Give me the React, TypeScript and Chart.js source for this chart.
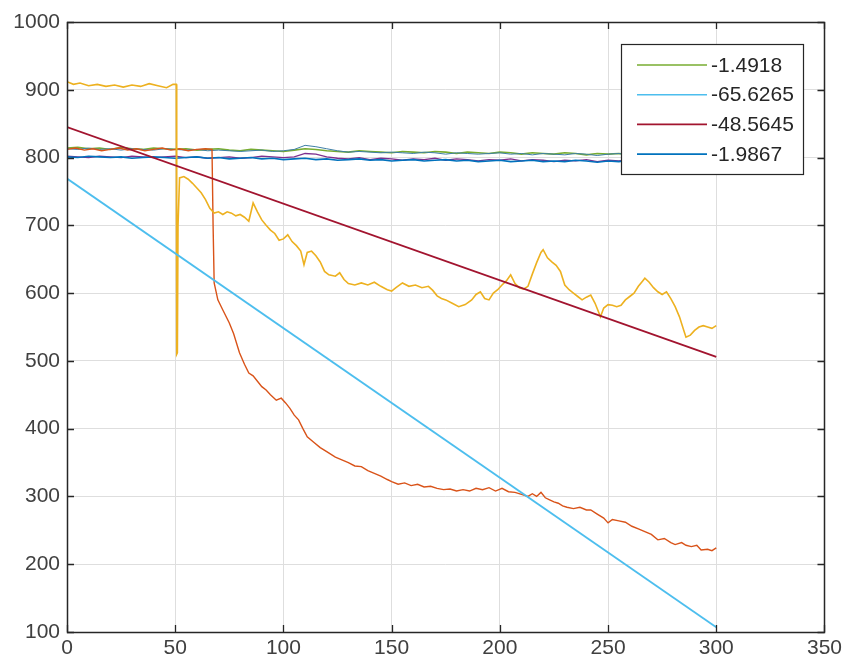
import React, { useEffect, useRef } from 'react';
import { Chart, registerables } from 'chart.js';

Chart.register(...registerables);

// ---- data ----
const xTicks = [0, 50, 100, 150, 200, 250, 300, 350];
const yTicks = [100, 200, 300, 400, 500, 600, 700, 800, 900, 1000];

const flatX = [0, 5, 10, 15, 20, 25, 30, 35, 40, 45, 50, 55, 60, 65, 70, 75, 80, 85, 90, 95, 100, 105, 110, 115, 120, 125, 130, 135, 140, 145, 150, 155, 160, 165, 170, 175, 180, 185, 190, 195, 200, 205, 210, 215, 220, 225, 230, 235, 240, 245, 250, 255, 260, 265, 270, 275, 280, 285, 290, 295, 300];

const greenY = [814, 815, 813, 814, 812, 815, 813, 812, 814, 813, 812, 813, 811, 812, 813, 811, 810, 812, 811, 810, 809, 811, 813, 812, 810, 809, 808, 810, 809, 808, 807, 809, 808, 807, 809, 808, 806, 808, 807, 806, 808, 807, 805, 807, 806, 805, 807, 806, 804, 806, 805, 806, 804, 806, 805, 804, 806, 805, 804, 806, 805];
const tealY = [813, 812, 814, 812, 813, 811, 813, 812, 811, 813, 812, 811, 812, 810, 811, 810, 809, 810, 811, 809, 810, 812, 818, 816, 813, 810, 808, 809, 808, 807, 808, 807, 806, 808, 807, 805, 807, 806, 805, 806, 807, 805, 806, 804, 806, 805, 804, 806, 805, 803, 805, 806, 803, 805, 804, 803, 805, 804, 806, 804, 805];
const blueY = [801, 800, 802, 801, 800, 801, 799, 800, 801, 800, 799, 800, 801, 799, 800, 798, 799, 800, 798, 799, 797, 798, 799, 797, 798, 796, 797, 798, 796, 797, 795, 796, 797, 795, 796, 797, 795, 796, 794, 795, 796, 794, 795, 796, 794, 795, 794, 796, 795, 793, 795, 794, 796, 795, 793, 794, 795, 794, 796, 795, 794];
const purpleY = [802, 801, 800, 802, 801, 800, 802, 801, 800, 801, 802, 800, 801, 799, 800, 801, 799, 800, 802, 801, 800, 801, 806, 805, 801, 799, 798, 800, 797, 799, 798, 796, 798, 797, 799, 796, 798, 797, 795, 797, 796, 798, 795, 797, 796, 794, 796, 795, 797, 794, 796, 795, 797, 794, 796, 795, 793, 795, 796, 794, 795];

const yellowX = [0, 3, 6, 10, 14, 18, 22, 26, 30, 34, 38, 42, 46, 49, 50.5, 50.7, 51, 51.3, 52, 54, 56, 58, 60, 62, 64, 66, 68, 70, 72, 74, 76, 78, 80, 82, 84, 86, 88, 90, 92, 94, 96, 98, 100, 102, 104, 106, 108, 109.5, 111, 113, 115, 117, 119, 121, 124, 126, 128, 130, 133, 136, 139, 142, 145, 148, 150, 152, 155, 158, 161, 164, 167, 169, 171, 173, 175, 178, 181, 184, 187, 189, 191, 193, 195, 197, 199, 201, 203, 205, 207, 209, 211, 213, 215, 217, 219, 220, 222, 224, 226, 228, 230, 232, 234, 236, 238, 240, 242, 244, 246.5, 248, 250, 252, 254, 256, 258, 260, 262, 264, 266, 267, 269, 271, 273, 275, 277, 279, 281, 283, 285, 286, 288, 290, 292, 294, 296, 298, 300];
const yellowY = [912, 908, 910, 906, 908, 905, 907, 904, 907, 905, 909, 906, 903, 908, 908, 510, 512, 700, 770, 772, 768, 762, 755, 748, 738, 725, 718, 720, 716, 720, 718, 714, 716, 712, 706, 733, 720, 708, 700, 693, 688, 678, 680, 686, 676, 670, 662, 642, 660, 662, 655, 646, 632, 627, 625, 630, 620, 614, 612, 615, 612, 616, 610, 605, 603, 608, 615, 610, 612, 608, 610, 604, 596, 592, 590, 585, 580, 583, 590, 598, 602, 592, 590, 600, 605, 612, 618, 627, 614, 608, 606, 610, 628, 645, 660, 664, 652, 646, 641, 632, 612, 605, 600, 595, 590, 594, 597, 585, 565, 578, 583, 582, 580, 582, 590, 595, 600, 610, 618, 622, 616, 608, 602, 598, 602, 592, 580, 565, 545, 535, 538, 545, 550, 552, 550, 548, 552];

const orangeX = [0, 4, 8, 12, 16, 20, 24, 28, 32, 36, 40, 44, 48, 52, 56, 60, 64, 67, 67.5, 68, 69.7, 72, 75, 77, 79.7, 82, 84, 86, 88, 90, 92, 94, 96.7, 99, 101, 103, 105, 107, 109, 111, 114, 117, 120, 122, 124, 127, 130, 133, 136, 139, 142, 145, 148, 150, 153, 156, 159, 162, 165, 168, 171, 174, 177, 180, 183, 186, 189, 192, 195, 198, 201, 204, 207, 210, 213, 215, 217, 219, 221, 223, 225, 227, 229, 231, 234, 237, 240, 242, 245, 248, 250, 252, 255, 258, 261, 264, 267, 270, 273, 276, 279, 281, 284, 286, 288.5, 291, 293, 296, 298, 300];
const orangeY = [812, 814, 811, 813, 810, 812, 814, 811, 813, 810, 812, 814, 811, 813, 810, 812, 813, 812, 700, 615, 590, 575, 556, 540, 512, 495, 482, 478, 470, 462, 457, 450, 442, 445, 438, 430, 420, 413, 400, 388, 380, 372, 366, 362, 358, 354, 350, 345, 344, 338, 334, 330, 325, 322, 318, 320, 316, 318, 314, 315, 312, 310, 311, 308, 310, 308, 312, 310, 313, 308, 312, 307, 306, 303, 300, 304, 300, 306, 298, 295, 292, 290, 286, 284, 282, 284, 280, 280, 274, 268, 261, 266, 264, 262, 256, 252, 248, 244, 236, 238, 232, 229, 232, 228, 226, 228, 221, 222, 220, 224];

const cyanX = [0, 300];
const cyanY = [769, 107];
const redX = [0, 300];
const redY = [845, 506];

const legendLabels = ['-1.4918', '-65.6265', '-48.5645', '-1.9867'];

const zip = (xs: number[], ys: number[]) => xs.map((x, i) => ({ x, y: ys[i] }));

const AXIS_COLOR = '#262626';
const FONT = '"Liberation Sans", Arial, sans-serif';

const boxPlugin = {
  id: 'matlabBox',
  afterDraw(chart: any) {
    const { ctx, chartArea: a, scales } = chart;
    const xs = scales.x;
    const ys = scales.y;
    ctx.save();
    ctx.strokeStyle = AXIS_COLOR;
    ctx.lineWidth = 1.3;
    const tl = 7;
    ctx.beginPath();
    for (const v of xTicks) {
      const px = Math.round(xs.getPixelForValue(v)) + 0.5;
      ctx.moveTo(px, a.bottom);
      ctx.lineTo(px, a.bottom - tl);
      ctx.moveTo(px, a.top);
      ctx.lineTo(px, a.top + tl);
    }
    for (const v of yTicks) {
      const py = Math.round(ys.getPixelForValue(v)) + 0.5;
      ctx.moveTo(a.left, py);
      ctx.lineTo(a.left + tl, py);
      ctx.moveTo(a.right, py);
      ctx.lineTo(a.right - tl, py);
    }
    ctx.stroke();
    ctx.lineWidth = 1.5;
    ctx.strokeRect(Math.round(a.left) + 0.5, Math.round(a.top) + 0.5, Math.round(a.right - a.left), Math.round(a.bottom - a.top));

    // legend
    const lx = 621, ly = 44, lw = 182, lh = 130;
    ctx.fillStyle = '#ffffff';
    ctx.fillRect(lx, ly, lw, lh);
    ctx.lineWidth = 1.2;
    ctx.strokeStyle = AXIS_COLOR;
    ctx.strokeRect(lx + 0.5, ly + 0.5, lw, lh);
    const items = chart.data.datasets.filter((d: any) => d.legendIndex !== undefined)
      .sort((p: any, q: any) => p.legendIndex - q.legendIndex);
    ctx.font = `21px ${FONT}`;
    ctx.textBaseline = 'middle';
    ctx.textAlign = 'left';
    items.forEach((d: any, i: number) => {
      const y = ly + 21 + i * 29.7;
      ctx.strokeStyle = d.borderColor;
      ctx.lineWidth = 1.6;
      ctx.beginPath();
      ctx.moveTo(637, y);
      ctx.lineTo(707, y);
      ctx.stroke();
      ctx.fillStyle = AXIS_COLOR;
      ctx.fillText(d.label, 711, y + 1);
    });
    ctx.restore();
  },
};

export default function App() {
  const ref = useRef<HTMLCanvasElement | null>(null);
  useEffect(() => {
    document.body.style.margin = '0';
    const ds = (label: string, xs: number[], ys: number[], color: string, width: number, legendIndex?: number) => ({
      label,
      data: zip(xs, ys),
      borderColor: color,
      backgroundColor: color,
      borderWidth: width,
      pointRadius: 0,
      tension: 0,
      fill: false,
      legendIndex,
    });
    const chart = new Chart(ref.current as HTMLCanvasElement, {
      type: 'line',
      data: {
        datasets: [
          ds(legendLabels[1], cyanX, cyanY, '#4DBEEE', 1.8, 1),
          ds(legendLabels[2], redX, redY, '#A2142F', 1.8, 2),
          ds('yellow', yellowX, yellowY, '#EDB120', 1.6),
          ds('orange', orangeX, orangeY, '#D95319', 1.4),
          ds(legendLabels[3], flatX, blueY, '#0072BD', 1.6, 3),
          ds('purple', flatX, purpleY, '#7E2F8E', 1.3),
          ds('teal', flatX, tealY, '#3E7FA6', 1.0),
          ds(legendLabels[0], flatX, greenY, '#77AC30', 1.6, 0),
        ] as any,
      },
      options: {
        animation: false,
        responsive: false,
        maintainAspectRatio: false,
        layout: { padding: { left: 0, top: 22, right: 19, bottom: 0 } },
        plugins: { legend: { display: false }, tooltip: { enabled: false } },
        scales: {
          x: {
            type: 'linear',
            min: 0,
            max: 350,
            afterBuildTicks: (s: any) => { s.ticks = xTicks.map((v) => ({ value: v })); },
            afterFit: (s: any) => { s.height = 39; },
            grid: { color: '#dedede', lineWidth: 1, drawTicks: false },
            border: { display: false },
            ticks: { color: '#404040', font: { family: FONT, size: 21 }, padding: 4, maxRotation: 0, autoSkip: false, callback: (v: any) => String(v) },
          },
          y: {
            type: 'linear',
            min: 100,
            max: 1000,
            afterBuildTicks: (s: any) => { s.ticks = yTicks.map((v) => ({ value: v })); },
            afterFit: (s: any) => { s.width = 67; },
            grid: { color: '#dedede', lineWidth: 1, drawTicks: false },
            border: { display: false },
            ticks: { color: '#404040', font: { family: FONT, size: 21 }, padding: 7, autoSkip: false, callback: (v: any) => String(v) },
          },
        },
      },
      plugins: [boxPlugin],
    } as any);
    return () => chart.destroy();
  }, []);
  return (
    <div style={{ position: 'fixed', left: 0, top: 0, width: 846, height: 671, background: '#fff' }}>
      <canvas ref={ref} width={846} height={671} style={{ display: 'block' }} />
    </div>
  );
}
